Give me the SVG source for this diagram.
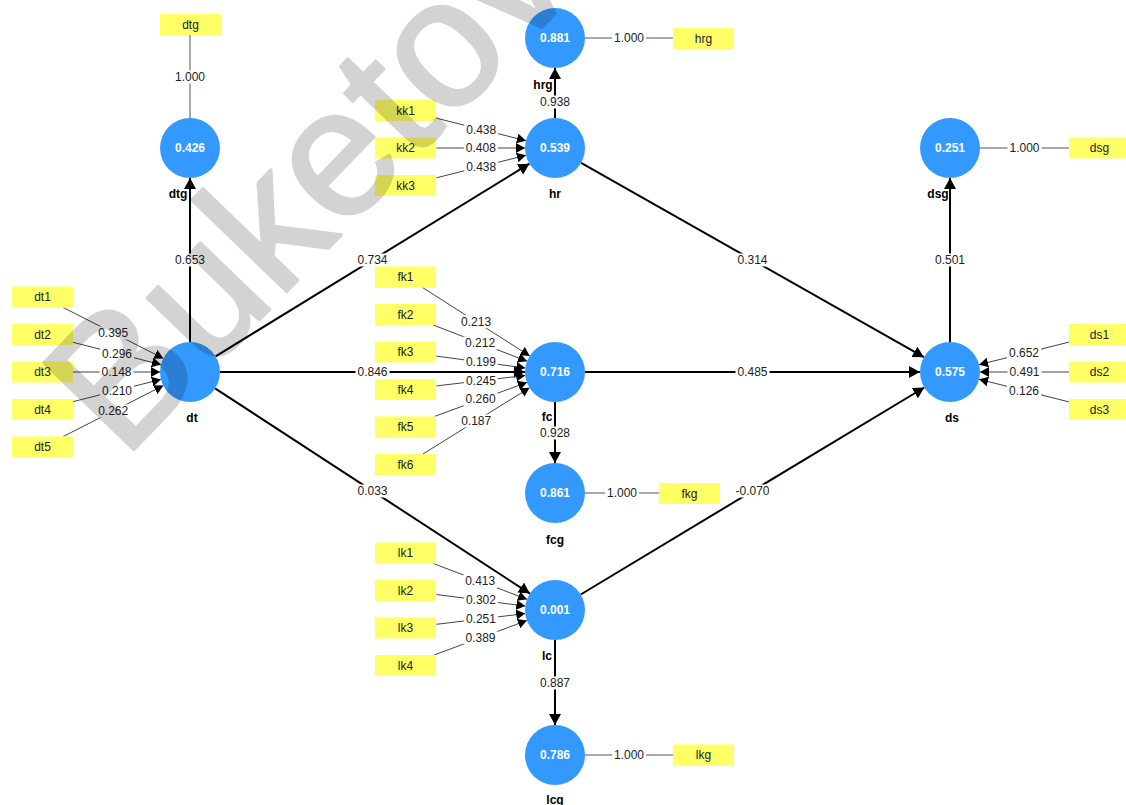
<svg xmlns="http://www.w3.org/2000/svg" width="1126" height="805" viewBox="0 0 1126 805">
<defs>
<style>
.s{stroke:#000;stroke-width:2;fill:none}
.m{stroke:#444;stroke-width:1;fill:none}
.r{stroke:#555;stroke-width:1;fill:none}
.lb{fill:#fff}
.lt{font-family:"Liberation Sans",Arial,sans-serif;font-size:12px;fill:#222;text-anchor:middle;dominant-baseline:central}
.cv{fill:#3399ff}
.ct{font-family:"Liberation Sans",Arial,sans-serif;font-size:12px;font-weight:bold;fill:#fff;text-anchor:middle;dominant-baseline:central}
.cn{font-family:"Liberation Sans",Arial,sans-serif;font-size:12px;font-weight:bold;fill:#000;text-anchor:middle;dominant-baseline:central}
.ir{fill:#ffff66}
.it{font-family:"Liberation Sans",Arial,sans-serif;font-size:12px;fill:#222;text-anchor:middle;dominant-baseline:central}
</style>
<marker id="aL" markerUnits="userSpaceOnUse" markerWidth="12" markerHeight="12" refX="11" refY="6" orient="auto"><path d="M0,0 L11,6 L0,12 z" fill="#000"/></marker>
<marker id="aS" markerUnits="userSpaceOnUse" markerWidth="10" markerHeight="10" refX="9" refY="5" orient="auto"><path d="M0,0 L9,5 L0,10 z" fill="#000"/></marker>
</defs>
<rect width="1126" height="805" fill="#fff"/>
<g id="connectors">
<path class="s" marker-end="url(#aL)" d="M190,342 L190,178"/>
<path class="s" marker-end="url(#aL)" d="M215.6,356.3 L529.4,163.7"/>
<path class="s" marker-end="url(#aL)" d="M220,372 L525,372"/>
<path class="s" marker-end="url(#aL)" d="M215.1,388.4 L529.9,593.6"/>
<path class="s" marker-end="url(#aL)" d="M555,118 L555,68"/>
<path class="s" marker-end="url(#aL)" d="M581.1,162.8 L923.9,357.2"/>
<path class="s" marker-end="url(#aL)" d="M585,372 L920,372"/>
<path class="s" marker-end="url(#aL)" d="M555,402 L555,463"/>
<path class="s" marker-end="url(#aL)" d="M580.7,594.5 L924.3,387.5"/>
<path class="s" marker-end="url(#aL)" d="M555,640 L555,725"/>
<path class="s" marker-end="url(#aL)" d="M950,342 L950,178"/>
<path class="m" marker-end="url(#aS)" d="M63.2,307.5 L163.3,358.4"/>
<path class="m" marker-end="url(#aS)" d="M73,342.3 L160.9,364.6"/>
<path class="m" marker-end="url(#aS)" d="M73,372 L160,372"/>
<path class="m" marker-end="url(#aS)" d="M73,401.7 L160.9,379.4"/>
<path class="m" marker-end="url(#aS)" d="M63.2,436.5 L163.3,385.6"/>
<path class="m" marker-end="url(#aS)" d="M436.5,118.2 L525.9,140.7"/>
<path class="m" marker-end="url(#aS)" d="M436.5,148 L525,148"/>
<path class="m" marker-end="url(#aS)" d="M436.5,177.8 L525.9,155.3"/>
<path class="m" marker-end="url(#aS)" d="M422.5,287.5 L529.7,355.9"/>
<path class="m" marker-end="url(#aS)" d="M433.2,325 L527,361.2"/>
<path class="m" marker-end="url(#aS)" d="M436.5,356.1 L525.3,368"/>
<path class="m" marker-end="url(#aS)" d="M436.5,385.9 L525.2,375.5"/>
<path class="m" marker-end="url(#aS)" d="M434.4,416.5 L526.9,382.4"/>
<path class="m" marker-end="url(#aS)" d="M422.9,454 L529.5,387.8"/>
<path class="m" marker-end="url(#aS)" d="M433.4,563.5 L527,599.3"/>
<path class="m" marker-end="url(#aS)" d="M436.5,594.5 L525.3,606.1"/>
<path class="m" marker-end="url(#aS)" d="M436.5,624.3 L525.2,613.6"/>
<path class="m" marker-end="url(#aS)" d="M434.2,655 L526.9,620.5"/>
<path class="m" marker-end="url(#aS)" d="M1069,342.1 L979.1,364.7"/>
<path class="m" marker-end="url(#aS)" d="M1069,372 L980,372"/>
<path class="m" marker-end="url(#aS)" d="M1069,401.9 L979.1,379.3"/>
<path class="r" d="M190,35 L190,118"/>
<path class="r" d="M585,38 L673,38"/>
<path class="r" d="M980,148 L1069,148"/>
<path class="r" d="M585,493 L659,493"/>
<path class="r" d="M585,755 L673,755"/>
<g id="edge-labels">
<rect class="lb" x="173" y="253.5" width="34" height="13"/><text class="lt" x="190" y="260">0.653</text>
<rect class="lb" x="355.5" y="253.5" width="34" height="13"/><text class="lt" x="372.5" y="260">0.734</text>
<rect class="lb" x="355.5" y="365.5" width="34" height="13"/><text class="lt" x="372.5" y="372">0.846</text>
<rect class="lb" x="355.5" y="484.5" width="34" height="13"/><text class="lt" x="372.5" y="491">0.033</text>
<rect class="lb" x="538" y="95.5" width="34" height="13"/><text class="lt" x="555" y="102">0.938</text>
<rect class="lb" x="735.5" y="253.5" width="34" height="13"/><text class="lt" x="752.5" y="260">0.314</text>
<rect class="lb" x="735.5" y="365.5" width="34" height="13"/><text class="lt" x="752.5" y="372">0.485</text>
<rect class="lb" x="538" y="426.5" width="34" height="13"/><text class="lt" x="555" y="433">0.928</text>
<rect class="lb" x="733.5" y="484.5" width="38" height="13"/><text class="lt" x="752.5" y="491">-0.070</text>
<rect class="lb" x="538" y="676.5" width="34" height="13"/><text class="lt" x="555" y="683">0.887</text>
<rect class="lb" x="933" y="253.5" width="34" height="13"/><text class="lt" x="950" y="260">0.501</text>
<rect class="lb" x="96.2" y="326.5" width="34" height="13"/><text class="lt" x="113.2" y="333">0.395</text>
<rect class="lb" x="100" y="347" width="34" height="13"/><text class="lt" x="117" y="353.5">0.296</text>
<rect class="lb" x="99.5" y="365.5" width="34" height="13"/><text class="lt" x="116.5" y="372">0.148</text>
<rect class="lb" x="100" y="384" width="34" height="13"/><text class="lt" x="117" y="390.5">0.210</text>
<rect class="lb" x="96.2" y="404.5" width="34" height="13"/><text class="lt" x="113.2" y="411">0.262</text>
<rect class="lb" x="464.2" y="123" width="34" height="13"/><text class="lt" x="481.2" y="129.5">0.438</text>
<rect class="lb" x="463.8" y="141.5" width="34" height="13"/><text class="lt" x="480.8" y="148">0.408</text>
<rect class="lb" x="464.2" y="160" width="34" height="13"/><text class="lt" x="481.2" y="166.5">0.438</text>
<rect class="lb" x="459.1" y="315.2" width="34" height="13"/><text class="lt" x="476.1" y="321.7">0.213</text>
<rect class="lb" x="463.1" y="336.6" width="34" height="13"/><text class="lt" x="480.1" y="343.1">0.212</text>
<rect class="lb" x="463.9" y="355.5" width="34" height="13"/><text class="lt" x="480.9" y="362">0.199</text>
<rect class="lb" x="463.9" y="374.2" width="34" height="13"/><text class="lt" x="480.9" y="380.7">0.245</text>
<rect class="lb" x="463.6" y="392.9" width="34" height="13"/><text class="lt" x="480.6" y="399.4">0.260</text>
<rect class="lb" x="459.2" y="414.4" width="34" height="13"/><text class="lt" x="476.2" y="420.9">0.187</text>
<rect class="lb" x="463.2" y="574.9" width="34" height="13"/><text class="lt" x="480.2" y="581.4">0.413</text>
<rect class="lb" x="463.9" y="593.8" width="34" height="13"/><text class="lt" x="480.9" y="600.3">0.302</text>
<rect class="lb" x="463.9" y="612.5" width="34" height="13"/><text class="lt" x="480.9" y="619">0.251</text>
<rect class="lb" x="463.5" y="631.2" width="34" height="13"/><text class="lt" x="480.5" y="637.7">0.389</text>
<rect class="lb" x="1007" y="346.9" width="34" height="13"/><text class="lt" x="1024" y="353.4">0.652</text>
<rect class="lb" x="1007.5" y="365.5" width="34" height="13"/><text class="lt" x="1024.5" y="372">0.491</text>
<rect class="lb" x="1007" y="384.1" width="34" height="13"/><text class="lt" x="1024" y="390.6">0.126</text>
<rect class="lb" x="173" y="70.5" width="34" height="13"/><text class="lt" x="190" y="77">1.000</text>
<rect class="lb" x="612" y="31.5" width="34" height="13"/><text class="lt" x="629" y="38">1.000</text>
<rect class="lb" x="1007.5" y="141.5" width="34" height="13"/><text class="lt" x="1024.5" y="148">1.000</text>
<rect class="lb" x="605" y="486.5" width="34" height="13"/><text class="lt" x="622" y="493">1.000</text>
<rect class="lb" x="612" y="748.5" width="34" height="13"/><text class="lt" x="629" y="755">1.000</text>
</g>
</g>
<g id="dtg"><circle class="cv" cx="190" cy="148" r="30"/><text class="ct" x="190" y="148">0.426</text><text class="cn" x="178" y="194">dtg</text></g>
<g id="dt"><circle class="cv" cx="190" cy="372" r="30"/><text class="cn" x="192" y="418">dt</text></g>
<g id="hrg"><circle class="cv" cx="555" cy="38" r="30"/><text class="ct" x="555" y="38">0.881</text><text class="cn" x="543" y="85">hrg</text></g>
<g id="hr"><circle class="cv" cx="555" cy="148" r="30"/><text class="ct" x="555" y="148">0.539</text><text class="cn" x="555" y="194">hr</text></g>
<g id="fc"><circle class="cv" cx="555" cy="372" r="30"/><text class="ct" x="555" y="372">0.716</text><text class="cn" x="547" y="417">fc</text></g>
<g id="fcg"><circle class="cv" cx="555" cy="493" r="30"/><text class="ct" x="555" y="493">0.861</text><text class="cn" x="555" y="540">fcg</text></g>
<g id="lc"><circle class="cv" cx="555" cy="610" r="30"/><text class="ct" x="555" y="610">0.001</text><text class="cn" x="547" y="656">lc</text></g>
<g id="lcg"><circle class="cv" cx="555" cy="755" r="30"/><text class="ct" x="555" y="755">0.786</text><text class="cn" x="555" y="800">lcg</text></g>
<g id="dsg"><circle class="cv" cx="950" cy="148" r="30"/><text class="ct" x="950" y="148">0.251</text><text class="cn" x="938" y="194">dsg</text></g>
<g id="ds"><circle class="cv" cx="950" cy="372" r="30"/><text class="ct" x="950" y="372">0.575</text><text class="cn" x="952" y="418">ds</text></g>
<g id="ind-dtg"><rect class="ir" x="160" y="14" width="61" height="21"/><text class="it" x="190.5" y="24.5">dtg</text></g>
<g id="ind-hrg"><rect class="ir" x="673" y="28" width="61" height="21"/><text class="it" x="703.5" y="38.5">hrg</text></g>
<g id="ind-dsg"><rect class="ir" x="1069" y="137.5" width="61" height="21"/><text class="it" x="1099.5" y="148">dsg</text></g>
<g id="ind-fkg"><rect class="ir" x="659" y="483" width="61" height="21"/><text class="it" x="689.5" y="493.5">fkg</text></g>
<g id="ind-lkg"><rect class="ir" x="673" y="744.5" width="61" height="21"/><text class="it" x="703.5" y="755">lkg</text></g>
<g id="ind-kk1"><rect class="ir" x="375" y="100" width="61" height="21"/><text class="it" x="405.5" y="110.5">kk1</text></g>
<g id="ind-kk2"><rect class="ir" x="375" y="137.5" width="61" height="21"/><text class="it" x="405.5" y="148">kk2</text></g>
<g id="ind-kk3"><rect class="ir" x="375" y="175" width="61" height="21"/><text class="it" x="405.5" y="185.5">kk3</text></g>
<g id="ind-dt1"><rect class="ir" x="12" y="286.5" width="61" height="21"/><text class="it" x="42.5" y="297">dt1</text></g>
<g id="ind-dt2"><rect class="ir" x="12" y="324" width="61" height="21"/><text class="it" x="42.5" y="334.5">dt2</text></g>
<g id="ind-dt3"><rect class="ir" x="12" y="361.5" width="61" height="21"/><text class="it" x="42.5" y="372">dt3</text></g>
<g id="ind-dt4"><rect class="ir" x="12" y="399" width="61" height="21"/><text class="it" x="42.5" y="409.5">dt4</text></g>
<g id="ind-dt5"><rect class="ir" x="12" y="436.5" width="61" height="21"/><text class="it" x="42.5" y="447">dt5</text></g>
<g id="ind-fk1"><rect class="ir" x="375" y="266.5" width="61" height="21"/><text class="it" x="405.5" y="277">fk1</text></g>
<g id="ind-fk2"><rect class="ir" x="375" y="304" width="61" height="21"/><text class="it" x="405.5" y="314.5">fk2</text></g>
<g id="ind-fk3"><rect class="ir" x="375" y="341.5" width="61" height="21"/><text class="it" x="405.5" y="352">fk3</text></g>
<g id="ind-fk4"><rect class="ir" x="375" y="379" width="61" height="21"/><text class="it" x="405.5" y="389.5">fk4</text></g>
<g id="ind-fk5"><rect class="ir" x="375" y="416.5" width="61" height="21"/><text class="it" x="405.5" y="427">fk5</text></g>
<g id="ind-fk6"><rect class="ir" x="375" y="454" width="61" height="21"/><text class="it" x="405.5" y="464.5">fk6</text></g>
<g id="ind-lk1"><rect class="ir" x="375" y="542.5" width="61" height="21"/><text class="it" x="405.5" y="553">lk1</text></g>
<g id="ind-lk2"><rect class="ir" x="375" y="580" width="61" height="21"/><text class="it" x="405.5" y="590.5">lk2</text></g>
<g id="ind-lk3"><rect class="ir" x="375" y="617.5" width="61" height="21"/><text class="it" x="405.5" y="628">lk3</text></g>
<g id="ind-lk4"><rect class="ir" x="375" y="655" width="61" height="21"/><text class="it" x="405.5" y="665.5">lk4</text></g>
<g id="ind-ds1"><rect class="ir" x="1069" y="324" width="61" height="21"/><text class="it" x="1099.5" y="334.5">ds1</text></g>
<g id="ind-ds2"><rect class="ir" x="1069" y="361.5" width="61" height="21"/><text class="it" x="1099.5" y="372">ds2</text></g>
<g id="ind-ds3"><rect class="ir" x="1069" y="399" width="61" height="21"/><text class="it" x="1099.5" y="409.5">ds3</text></g>
<g opacity="0.17"><text id="watermark" transform="translate(352,224) rotate(-46)" font-family="Liberation Sans, Arial, sans-serif" font-size="182" text-anchor="middle" fill="#000" stroke="#000" stroke-width="3" stroke-linejoin="round">Buketov</text></g>
</svg>
